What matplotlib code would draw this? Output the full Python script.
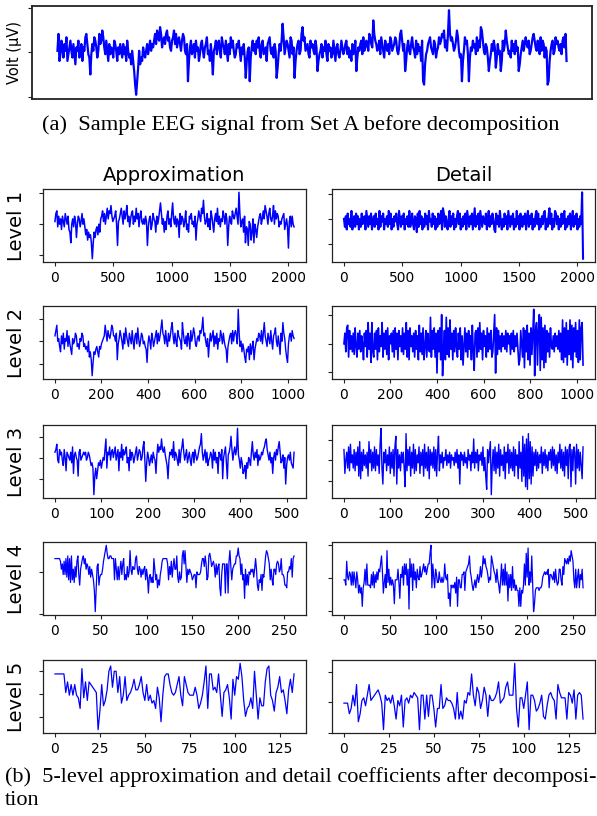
import numpy as np
import matplotlib
matplotlib.use("Agg")
import matplotlib.pyplot as plt

# ---------------- data (letter-coded amplitude levels, a = lowest, z = highest) ----------------
LETTERS = "abcdefghijklmnopqrstuvwxyz"

raw_signal = (
    "nskmqolpnrkmoqnlpmjonqlmpkonrspm" "lgmpnrqolnspqtromqnkpmonlqpnkomp"
    "nlpmokqnlmjnkhdaeinjlkomlnpmoqnp" "oqsptrqusoqrpstqronqrtpsoqrpnqsr"
    "nmpekoqmnplqnokmpqnloprmnkplgnoq" "mpqnlrpomqnkpmroqnlmpoqnkomplfkn"
    "oeloqnpmqornlpqmnokpqrnmolpnfimp" "nqvrmoqpnlrqmofknpqmnsuqrnopmlqo"
    "pnmqohkmnplonqmkpnolmqnkopmlnqom" "npqmolnkpmnqhlonpqmrnoqpnsrpowsq"
    "pnoqmrpnlqonpmrqnoprqnmostqnphko" "qnmpronlqmpnokqedjmnpqronmqplnor"
    "pqsrtoqnszsqrpnoqtrnlmeknrpqmelo" "nqopmrnqoutqnmpolhkmpnqoilpmnhkq"
    "nptqomnlqnpmqnohjmoqnprpoqmnprsq" "onqpmrnqplondeknpqmnrpqonpmqrosk"
)

approx_1 = (
    "orsmqnplqomrpnqlkgnpmqoinqpmornp" "mjlhkijgagkilmjnkpqsornqtpsruqop"
    "qsnfoprtqnspruoqmprsnqotprmqsonp" "nqofmpqlnrpokqnpsvrnpkolqsnpmrvp"
    "nqmpoirnqpmoslnkqprnomqhnpsqotrw" "qnormplsqnkprotnqmposqnrpfmqonsq"
    "prtqnzrmopkqgmlfonhkpgnlimoqrnps" "pusqnrtpoqunsprqmonpqrlnpmeoqmqn" "m"
)
detail_1 = (
    "pmqlrnpmsloqmrnqlpmrnoqlspmqnrlo" "qmrnplsmqorlpnqmsnrlpmqornlspmqn"
    "rlpnqmsmornlqpkrmsnqlpmrnqlsopmr" "nqlpmrnosltrmqnlpsmqnrlpmqsnrlpm"
    "qnrlspmqnrlptmqnrlspmqonrlpsmqnr" "plkrnqmsolpmrnqlspmqnrlpmsnqlrpm"
    "qnrlpsmqnrlpmqsnrlpmqnrslpmqtnrl" "pmsrnqlpmrnqslpmqnrlpsmqnrlpmqn" "za"
)
approx_2 = (
    "prtnoljpmqkonrlpmkiomnqplmkonqpl" "mkljnhjgafjikljhlkmnoptqnrpoqtsp"
    "pnqgmorpnkqmspnlqomrnkpqmsolnqpm" "nlkfmpnkqolnprmqnpsvqpmrnlqnpsup"
    "mqnlrponkuqnmplqokrnpsqmlopnrqsw" "pqnlohmqnprlpmqkonrpmqnlkflnpqmr"
    "nqrpmzqlnjmkhfkjlgmilngkmonqpnrm" "qupnlqomrnkpqsnlpmiqnuqokhfmpqnr" "po"
)
detail_2 = (
    "mqjsthrkpjqislhqkrjpmgqlrhukqfuj" "hqkrgsjpluhqkrisgpmqjrhskqgrlpjs"
    "iqkuhrgslpjqhrkpgtjqisglrhqkjwhr" "kshqbrjsgxakrgwishvkqgrjslhqksgp"
    "elsjqhrkpgtjcqrhsjukqgrlphsjqkrh" "jqxbsirkpjqlpkrjqmpiqkrjplqkegrm"
    "hsdrjtgqesiqzaruerxcwgsdtfrjqhsl" "kpjqlpkrjqgvfshuerivgtdsjuhrfvgs" "ue"
)
approx_3 = (
    "qrtnmrpqnlrojqponqmsipqonhqrnopq" "pqnoqpnlmkahkgjmlnkmonrvkqpsnqro"
    "qsnprjqotnrpqsmojrnqpmoqsnprqnos" "unfmqolnpmqoniptqsrvrqspnlgnqpro"
    "unqpnlrmqsvqnprmoqnlpqmrpnoqstxq" "nprmqlnoqpkrnqmoiqpnrgoqsmgpqswr"
    "nqsprzpnkomijlgmkonlqupnqorlpnoq" "prsuvrpnqmoioqnrpsuqmnpkoelopnqm" "lkq"
)
detail_3 = (
    "rinqksjtmpkrjqlshugqjrlpkqhumrjq" "ksjrlpitzkeqmrjplsiqkrhswerkpjqm"
    "qkdxjrlshqktirjpmsiqlrhtkqjsgrlq" "ksjrhqwjpmqkonrlpmqkpnolqmrkpeqn"
    "plqmokrnpjqmvkqmrjpnqlsjohcrmqua" "lrjsiqkthrlpjsgqmtirkqjshrlpgukq"
    "fwhtdvcxgueshqlrjqkpmsiqlrkpjqnr" "kslrjpiqmtkrjqhslrgstdrjsqetkrjq" "lgs"
)
approx_4 = (
    "uuuuuutqso" "tounvmulvm" "qlrntvokqs" "uvsuqsrorn" "qomiajrskn"
    "ooqtvxzwuu" "vvuuumuqmr" "mqtosumomr" "npxqorqquv" "qorqnqoqrm"
    "qnhnolnluq" "mojmkoqtuu" "uuusmrotnr" "uqqvnlpmnv" "xsxrlqoqpo"
    "mnoojpooop" "suurvsmnvw" "urstrnsors" "jgossshssh" "txrmqrssvv"
    "yvuosmofqk" "okpoqpqnqu" "qkimloionr" "vxwusmqmkq" "qostspquoo"
    "nkkjpprqun" "uv"
)
detail_4 = (
    "mmktnmpokp" "kpmjpmhkhj" "cjlqkskkkj" "okpjolpmqp" "svphlojxlq"
    "knkmkdmmmq" "lfonrksosk" "qbunsismpj" "qnmrnoqspr" "oqsswzjsnj"
    "qollpmlnlm" "snmofhckjk" "jlhncmmjjo" "opipqrsvpn" "kikmjmolnr"
    "nqvsurqoln" "mvtrpolqmk" "hmskqkskpe" "ojoirjmiki" "icjcihkskw"
    "nykplvkadi" "jjjijjknop" "opoqjoonmp" "lqmklqqmkr" "outsusvtxv"
    "tmjqjnqjom" "qj"
)
approx_5 = (
    "vvvvvvosnr" "nrnmixmsls" "rqpoahrjlp" "wyqwwouknu" "lnoqtppruo"
    "lrlnkliqmd" "nuvvronoru" "njuronnnqn" "iknsyivvpq" "ovnfoprmet"
    "nutzulfijm" "iwnemjjsxy" "nlhoquoplg" "ptov"
)
detail_5 = (
    "kkkginjrdg" "lmjnrlmnop" "nkanlmknje" "ljnblmknmo" "nmannenfnn"
    "ibiirijmll" "kieoehelko" "nvnjqoilqn" "fnllmosklm" "qsnnnzibmm"
    "insannlhik" "nfejnomler" "ommmeonkpe" "none"
)

level_names = ["Level 1", "Level 2", "Level 3", "Level 4", "Level 5"]
approx_series = [approx_1, approx_2, approx_3, approx_4, approx_5]
detail_series = [detail_1, detail_2, detail_3, detail_4, detail_5]
coef_step = [8, 4, 2, 1, 1]          # coefficient index spacing of stored samples
x_ticks = [[0, 500, 1000, 1500, 2000], [0, 200, 400, 600, 800, 1000],
           [0, 100, 200, 300, 400, 500], [0, 50, 100, 150, 200, 250],
           [0, 25, 50, 75, 100, 125]]
approx_yticks = [[1.2, 13.05, 24.9], [4.5, 12.9, 21.3], [5.8, 13.7, 21.6],
                 [-1.0, 14.9], [4.75, 13.4, 22.05]]
detail_yticks = [[5.5, 15.0, 24.5], [1.3, 12.0, 22.7], [5.2, 12.9, 20.6],
                 [0.3, 12.8, 25.3], [-1.2, 10.3, 21.8]]


def decode(s):
    return np.array([LETTERS.index(c) for c in s], dtype=float)


# ---------------- figure ----------------
W, H = 597, 816
fig = plt.figure(figsize=(W / 100, H / 100), dpi=100)
BLUE = "#0000ff"
SERIF = ["Liberation Serif", "DejaVu Serif"]
SANS = ["DejaVu Sans"]
approx_lw = [1.1, 1.0, 1.0, 0.9, 0.9]
detail_lw = [1.5, 1.2, 1.0, 0.9, 0.9]


def add_ax(left, top, w, h):
    return fig.add_axes([left / W, 1 - (top + h) / H, w / W, h / H])


def style(ax, lw=0.9):
    for sp in ax.spines.values():
        sp.set_linewidth(lw)
        sp.set_color("#222222")
    ax.tick_params(axis="both", direction="out", length=3.0, width=0.8,
                   labelsize=10, colors="#222222", labelcolor="black")
    ax.set_ylim(-1.25, 26.25)


# (a) raw signal
ax0 = add_ax(32, 6, 560, 93)
y0 = decode(raw_signal)
ax0.plot(np.arange(len(y0)), y0, color=BLUE, lw=1.6)
style(ax0, lw=1.3)
ax0.set_xticks([])
ax0.set_yticks([-0.6, 12.6, 25.8])
ax0.set_yticklabels([])
fig.text(15 / W, 1 - 52 / H, "Volt (µV)", rotation=90, ha="center", va="center",
         fontsize=10.5, family=SANS)
fig.text(42 / W, 1 - 130 / H, "(a)  Sample EEG signal from Set A before decomposition",
         family=SERIF, fontsize=16.2, ha="left", va="baseline")

# (b) decomposition grid
row_tops = [189, 306, 425, 542, 660]
AX_H = 73
for i in range(5):
    for col, (series, yt, lws) in enumerate([(approx_series, approx_yticks, approx_lw),
                                             (detail_series, detail_yticks, detail_lw)]):
        left = 43 if col == 0 else 332
        ax = add_ax(left, row_tops[i], 263, AX_H)
        y = decode(series[i])
        x = np.arange(len(y)) * coef_step[i]
        ax.plot(x, y, color=BLUE, lw=lws[i])
        style(ax)
        ax.set_xticks(x_ticks[i])
        ax.set_xticklabels([str(v) for v in x_ticks[i]], family=SANS)
        ax.set_yticks(yt[i])
        ax.set_yticklabels([])
        if i == 0:
            ax.set_title("Approximation" if col == 0 else "Detail", fontsize=14,
                         pad=6, family=SANS)
    fig.text(17 / W, 1 - (row_tops[i] + AX_H / 2) / H, level_names[i], rotation=90,
             ha="center", va="center", fontsize=14, family=SANS)

fig.text(5 / W, 1 - 782 / H,
         "(b)  5-level approximation and detail coefficients after decomposi-",
         family=SERIF, fontsize=16, ha="left", va="baseline")
fig.text(5 / W, 1 - 805 / H, "tion", family=SERIF, fontsize=16, ha="left", va="baseline")

fig.savefig("out.png", dpi=100)
